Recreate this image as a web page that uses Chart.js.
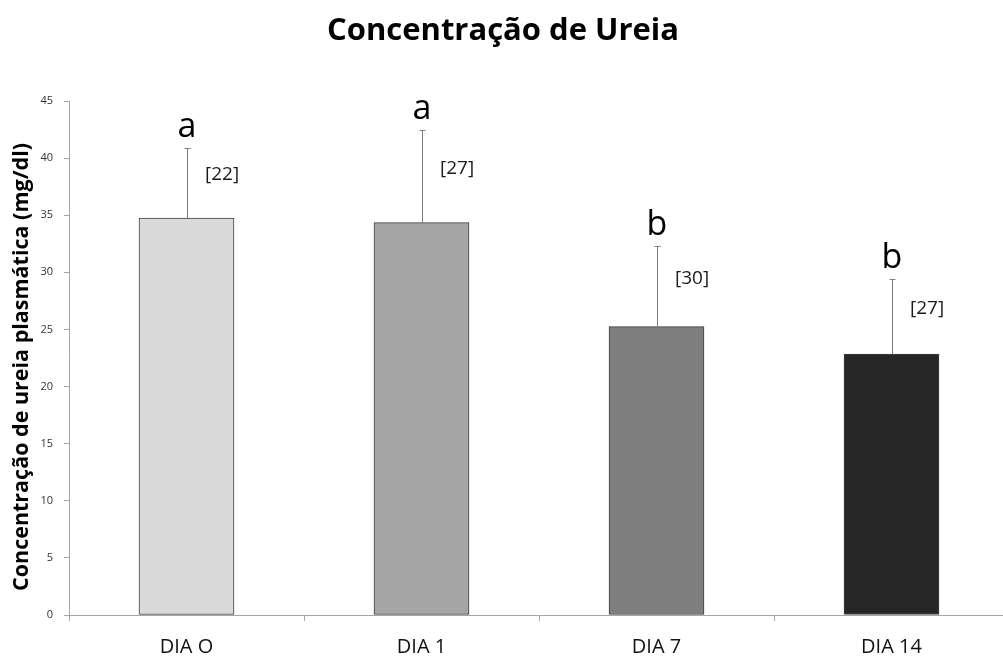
<!DOCTYPE html>
<html>
<head>
<meta charset="utf-8">
<script src="https://cdn.jsdelivr.net/npm/chart.js@4"></script>
<style>
	html, body { margin: 0; padding: 0; background: #fff; overflow: hidden; }
	#wrap { width: 1009px; height: 656px; }
</style>
</head>
<body>
<div id="wrap"><canvas id="chart-ureia"></canvas></div>
<script>
// Data
const CATEGORIES = ["DIA O", "DIA 1", "DIA 7", "DIA 14"];
const MEANS = [34.75, 34.35, 25.25, 22.85];
const SD = [6.15, 8.1, 7.05, 6.6];
const LETTERS = ["a", "a", "b", "b"];
const N_LABELS = ["[22]", "[27]", "[30]", "[27]"];
const Y_TICKS = [0, 5, 10, 15, 20, 25, 30, 35, 40, 45];
const BAR_COLORS = ["#d9d9d9", "#a6a6a6", "#7f7f7f", "#262626"];

const TITLE = "Concentração de Ureia";
const Y_TITLE = "Concentração de ureia plasmática (mg/dl)";
const FONT = "'Open Sans', sans-serif";

// error bars + annotations
const extras = {
	id: "extras",
	afterDatasetsDraw(chart) {
		const { ctx, scales: { x, y } } = chart;
		ctx.save();
		MEANS.forEach((m, i) => {
			const cx = Math.round(x.getPixelForValue(i));
			const yTop = Math.round(y.getPixelForValue(m + SD[i]));
			const yBar = y.getPixelForValue(m);
			ctx.strokeStyle = "#7f7f7f";
			ctx.lineWidth = 1;
			ctx.beginPath();
			ctx.moveTo(cx + 0.5, yBar);
			ctx.lineTo(cx + 0.5, yTop);
			ctx.moveTo(cx - 2.5, yTop + 0.5);
			ctx.lineTo(cx + 3.5, yTop + 0.5);
			ctx.stroke();

			ctx.fillStyle = "#000";
			ctx.textAlign = "center";
			ctx.textBaseline = "alphabetic";
			ctx.font = "34px " + FONT;
			ctx.fillText(LETTERS[i], cx, yTop - 11);

			ctx.fillStyle = "#1a1a1a";
			ctx.font = "19px " + FONT;
			ctx.textAlign = "left";
			ctx.textBaseline = "middle";
			ctx.fillText(N_LABELS[i], cx + 18, (yTop + yBar) / 2 - 8);
		});

		// title
		ctx.fillStyle = "#000";
		ctx.font = "bold 31px " + FONT;
		ctx.textAlign = "center";
		ctx.textBaseline = "middle";
		ctx.fillText(TITLE, 503, 31);

		// y axis title
		ctx.translate(22, 367);
		ctx.rotate(-Math.PI / 2);
		ctx.font = "bold 21.5px " + FONT;
		ctx.fillText(Y_TITLE, 0, 0);
		ctx.restore();
	},
};

const CHART_DATA = {
	labels: CATEGORIES,
	datasets: [
		{
			data: MEANS,
			backgroundColor: BAR_COLORS,
			borderColor: "#3f3f3f",
			borderWidth: 1,
			borderSkipped: false,
			barThickness: 95,
		},
	],
};

const CHART_CONFIG = {
	type: "bar",
	data: CHART_DATA,
	options: {
		responsive: true,
		maintainAspectRatio: false,
		animation: false,
		layout: {
			padding: { top: 101, right: 0, bottom: 0, left: 0 },
		},
		plugins: {
			legend: { display: false },
			title: { display: false },
			tooltip: { enabled: false },
		},
		scales: {
			x: {
				grid: {
					offset: true,
					drawOnChartArea: false,
					color: "#a6a6a6",
					tickLength: 6,
				},
				border: { color: "#a6a6a6" },
				ticks: {
					color: "#111",
					padding: 14,
					font: { family: FONT, size: 20 },
				},
				afterFit: (scale) => {
					scale.height = 41;
				},
			},
			y: {
				min: 0,
				max: 45,
				afterBuildTicks: (scale) => {
					scale.ticks = Y_TICKS.map((v) => ({ value: v }));
				},
				grid: {
					drawOnChartArea: false,
					color: "#a6a6a6",
					tickLength: 5,
				},
				border: { color: "#a6a6a6" },
				ticks: {
					color: "#333",
					padding: 11,
					font: { family: FONT, size: 11 },
				},
				afterFit: (scale) => {
					scale.width = 69;
				},
			},
		},
	},
	plugins: [extras],
};

new Chart(document.getElementById("chart-ureia"), CHART_CONFIG);
</script>
</body>
</html>
